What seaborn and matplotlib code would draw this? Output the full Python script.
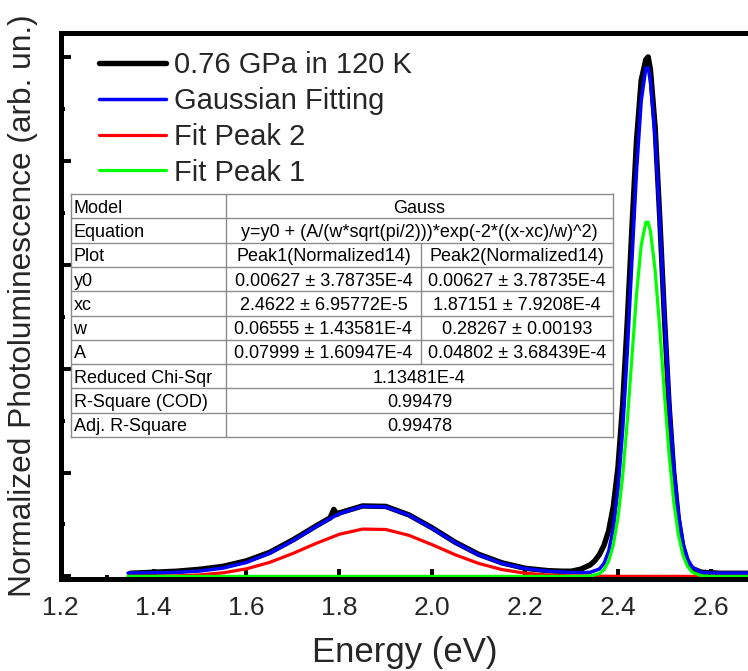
import matplotlib
matplotlib.use("Agg")
import matplotlib.pyplot as plt
import seaborn as sns
import pandas as pd

# ---------------- data ----------------
x_data = [1.35, 1.40, 1.45, 1.50, 1.55, 1.60, 1.65, 1.70, 1.75, 1.78, 1.788, 1.795, 1.80,
          1.85, 1.90, 1.95, 2.00, 2.05, 2.10, 2.15, 2.20, 2.25, 2.28, 2.30, 2.32, 2.34,
          2.35, 2.36, 2.37, 2.38, 2.39, 2.40, 2.41, 2.42, 2.43, 2.44, 2.45, 2.46, 2.465,
          2.47, 2.48, 2.49, 2.50, 2.51, 2.52, 2.53, 2.54, 2.55, 2.56, 2.58, 2.62, 2.68]
y_data = [0.006, 0.008, 0.010, 0.0137, 0.0195, 0.0300, 0.0463, 0.0703, 0.0972, 0.1126, 0.129, 0.1193,
          0.1222, 0.1356, 0.1347, 0.1183, 0.0934, 0.0655, 0.0425, 0.0262, 0.0156, 0.011, 0.010, 0.010,
          0.014, 0.022, 0.030, 0.042, 0.060, 0.088, 0.135, 0.210, 0.330, 0.490, 0.670, 0.840, 0.955,
          0.995, 1.000, 0.975, 0.865, 0.690, 0.500, 0.330, 0.200, 0.110, 0.055, 0.027, 0.015, 0.008,
          0.006, 0.006]

x_fit = [1.345, 1.40, 1.45, 1.50, 1.55, 1.60, 1.65, 1.70, 1.75, 1.80, 1.85, 1.90, 1.95, 2.00,
         2.05, 2.10, 2.15, 2.20, 2.25, 2.30, 2.32, 2.34, 2.36, 2.37, 2.38, 2.39, 2.40, 2.41,
         2.42, 2.43, 2.44, 2.45, 2.46, 2.465, 2.47, 2.48, 2.49, 2.50, 2.51, 2.52, 2.53, 2.54,
         2.55, 2.56, 2.58, 2.60, 2.68]
y_fit = [0.0064, 0.0068, 0.0078, 0.0104, 0.0161, 0.0269, 0.0446, 0.0686, 0.0962, 0.1208, 0.1349,
         0.1338, 0.1178, 0.0924, 0.0649, 0.0415, 0.0249, 0.0150, 0.0099, 0.0075, 0.0072, 0.0078,
         0.0142, 0.0252, 0.0485, 0.0926, 0.1673, 0.2805, 0.4315, 0.6074, 0.7804, 0.9150, 0.9780,
         0.9790, 0.9530, 0.8465, 0.6860, 0.5070, 0.3424, 0.2119, 0.1209, 0.0645, 0.0332, 0.0176,
         0.0078, 0.0064, 0.0063]

x_peak2 = [1.345, 1.40, 1.45, 1.50, 1.55, 1.60, 1.65, 1.70, 1.75, 1.80, 1.85, 1.90, 1.95, 2.00,
           2.05, 2.10, 2.15, 2.20, 2.25, 2.30, 2.40, 2.68]
y_peak2 = [0.0001, 0.0004, 0.0011, 0.0029, 0.0069, 0.0146, 0.0270, 0.0442, 0.0636, 0.0811, 0.0911,
           0.0903, 0.0790, 0.0610, 0.0415, 0.0250, 0.0132, 0.0061, 0.0026, 0.0010, 0.0001, 0.0]

x_peak1 = [1.345, 2.25, 2.30, 2.32, 2.34, 2.36, 2.37, 2.38, 2.39, 2.40, 2.41, 2.42, 2.43, 2.44,
           2.45, 2.46, 2.465, 2.47, 2.48, 2.49, 2.50, 2.51, 2.52, 2.53, 2.54, 2.55, 2.56, 2.58,
           2.60, 2.62, 2.68]
y_peak1 = [0.0, 0.0, 0.0, 0.0001, 0.0007, 0.0053, 0.0131, 0.0294, 0.0604, 0.1128, 0.1922, 0.2981,
           0.4216, 0.5430, 0.6373, 0.6815, 0.6820, 0.6640, 0.5894, 0.4767, 0.3512, 0.2358, 0.1443,
           0.0804, 0.0408, 0.0189, 0.0080, 0.0011, 0.0001, 0.0, 0.0]

series_labels = ["0.76 GPa in 120 K", "Gaussian Fitting", "Fit Peak 2", "Fit Peak 1"]
x_ticks = [1.2, 1.4, 1.6, 1.8, 2.0, 2.2, 2.4, 2.6]
x_ticklabels = ["1.2", "1.4", "1.6", "1.8", "2.0", "2.2", "2.4", "2.6"]

table_labels = ["Model", "Equation", "Plot", "y0", "xc", "w", "A",
                "Reduced Chi-Sqr", "R-Square (COD)", "Adj. R-Square"]
table_merged = {0: "Gauss",
                1: "y=y0 + (A/(w*sqrt(pi/2)))*exp(-2*((x-xc)/w)^2)",
                7: "1.13481E-4", 8: "0.99479", 9: "0.99478"}
table_col1 = {2: "Peak1(Normalized14)", 3: "0.00627 ± 3.78735E-4", 4: "2.4622 ± 6.95772E-5",
              5: "0.06555 ± 1.43581E-4", 6: "0.07999 ± 1.60947E-4"}
table_col2 = {2: "Peak2(Normalized14)", 3: "0.00627 ± 3.78735E-4", 4: "1.87151 ± 7.9208E-4",
              5: "0.28267 ± 0.00193", 6: "0.04802 ± 3.68439E-4"}

# ---------------- styling ----------------
sns.set_theme(style="ticks")
plt.rcParams["font.family"] = ["Liberation Sans", "DejaVu Sans"]

W, H = 748, 671
fig = plt.figure(figsize=(W / 100, H / 100), dpi=100)
ax_l, ax_r, ax_t, ax_b = 60.7, 748.0, 33.0, 579.0
ax = fig.add_axes([ax_l / W, (H - ax_b) / H, (ax_r - ax_l) / W, (ax_b - ax_t) / H])

df_data = pd.DataFrame({"x": x_data, "y": y_data})
df_fit = pd.DataFrame({"x": x_fit, "y": y_fit})
df_p2 = pd.DataFrame({"x": x_peak2, "y": y_peak2})
df_p1 = pd.DataFrame({"x": x_peak1, "y": y_peak1})

sns.lineplot(data=df_data, x="x", y="y", ax=ax, color="black", lw=3.9, label=series_labels[0])
sns.lineplot(data=df_fit, x="x", y="y", ax=ax, color="#0000ff", lw=2.5, label=series_labels[1])
sns.lineplot(data=df_p2, x="x", y="y", ax=ax, color="#ff0000", lw=2.3, label=series_labels[2])
sns.lineplot(data=df_p1, x="x", y="y", ax=ax, color="#00ff00", lw=2.3, label=series_labels[3])

ax.set_xlim(1.2, 2.68)
ax.set_ylim(-0.005, 1.046)
ax.set_xticks(x_ticks)
ax.set_xticklabels(x_ticklabels)
ax.set_xticks([1.3, 1.5, 1.7, 1.9, 2.1, 2.3, 2.5], minor=True)
ax.set_yticks([0.0, 0.2, 0.4, 0.6, 0.8, 1.0])
ax.set_yticks([0.1, 0.3, 0.5, 0.7, 0.9], minor=True)
ax.set_yticklabels([])
ax.tick_params(axis="both", which="major", direction="in", length=7, width=2.8, color="black")
ax.tick_params(axis="both", which="minor", direction="in", length=3, width=2.8, color="black")
ax.tick_params(axis="x", which="major", labelsize=19, pad=12)
ax.tick_params(top=False, right=False, which="both")

for side in ["left", "bottom", "top"]:
    ax.spines[side].set_linewidth(3.6)
    ax.spines[side].set_color("black")
ax.spines["right"].set_visible(False)

ax.set_xlabel("Energy (eV)", fontsize=25, labelpad=12)
ax.set_ylabel("Normalized Photoluminescence (arb. un.)", fontsize=22.8, labelpad=13)

leg = ax.legend(loc="upper left", bbox_to_anchor=(0.055, 0.967), frameon=False,
                fontsize=21, handlelength=2.3, handletextpad=0.3, labelspacing=0.27,
                borderaxespad=0, borderpad=0)

# ---------------- fit table ----------------
t_l, t_r, t_t, t_b = 70.5, 613.0, 194.0, 437.0
c1, c2 = 226.0, 421.0
tax = fig.add_axes([t_l / W, (H - t_b) / H, (t_r - t_l) / W, (t_b - t_t) / H])
tax.set_xlim(t_l, t_r)
tax.set_ylim(t_b, t_t)
tax.set_facecolor("white")
tax.set_xticks([])
tax.set_yticks([])
for s in tax.spines.values():
    s.set_color("#8c8c8c")
    s.set_linewidth(1.0)

nrows = len(table_labels)
rh = (t_b - t_t) / nrows
gray = "#8c8c8c"
tfs = 13
for i in range(1, nrows):
    y = t_t + i * rh
    tax.plot([t_l, t_r], [y, y], color=gray, lw=1.0)
tax.plot([c1, c1], [t_t, t_b], color=gray, lw=1.0)
tax.plot([c2, c2], [t_t + 2 * rh, t_t + 7 * rh], color=gray, lw=1.0)

for i, lab in enumerate(table_labels):
    yc = t_t + (i + 0.5) * rh
    tax.text(t_l + 3, yc, lab, ha="left", va="center_baseline", fontsize=tfs, color="black")
    if i in table_merged:
        tax.text((c1 + t_r) / 2, yc, table_merged[i], ha="center", va="center_baseline",
                 fontsize=tfs, color="black")
    if i in table_col1:
        tax.text((c1 + c2) / 2, yc, table_col1[i], ha="center", va="center_baseline",
                 fontsize=tfs, color="black")
    if i in table_col2:
        tax.text((c2 + t_r) / 2, yc, table_col2[i], ha="center", va="center_baseline",
                 fontsize=tfs, color="black")

fig.savefig("out.png", dpi=100)
